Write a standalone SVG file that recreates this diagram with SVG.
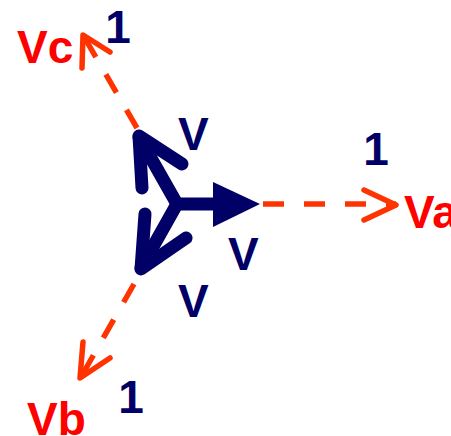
<svg xmlns="http://www.w3.org/2000/svg" width="451" height="436" viewBox="0 0 451 436">
  <style>
    .lbl { font-family: "Liberation Sans", Arial, sans-serif; font-weight: bold; font-size: 46px; }
    .red { fill: #FF0000; }
    .navy { fill: #000066; }
    .phasor { fill: none; stroke: #000066; stroke-width: 13; stroke-linecap: round; stroke-linejoin: round; }
    .dash { fill: none; stroke: #FF3300; stroke-width: 5.5; stroke-dasharray: 21 20; }
    .chev { fill: none; stroke: #FF3300; stroke-width: 5.5; stroke-linecap: round; stroke-linejoin: round; }
  </style>
  <rect width="451" height="436" fill="#FFFFFF"/>

  <g id="connectors">
    <line class="dash" x1="263" y1="204" x2="396" y2="204"/>
    <polyline class="chev" points="364,190 396,205 364,220"/>
    <line class="dash" x1="137" y1="128" x2="83" y2="35"/>
    <polyline class="chev" points="82,68 83,35 110,52"/>
    <line class="dash" x1="134" y1="284" x2="81" y2="377"/>
    <polyline class="chev" points="83,342 80,378 110,358"/>
  </g>

  <g id="star">
    <line class="phasor" x1="177" y1="204" x2="215" y2="204"/>
    <polygon points="213,182 260,204 213,227" fill="#000066"/>
    <line class="phasor" x1="177" y1="204" x2="139" y2="137"/>
    <polyline class="phasor" points="142,188 139,136 182,164"/>
    <line class="phasor" x1="177" y1="204" x2="141" y2="268"/>
    <polyline class="phasor" points="145,214 141,269 186,238"/>
  </g>

  <g id="label-v-upper"><text class="lbl navy" x="178" y="150">V</text></g>
  <g id="label-v-right"><text class="lbl navy" x="228" y="270">V</text></g>
  <g id="label-v-lower"><text class="lbl navy" x="178" y="317">V</text></g>

  <g id="node-va">
    <text class="lbl red" x="404" y="228">Va</text>
    <text class="lbl navy" x="376" y="165" text-anchor="middle">1</text>
  </g>
  <g id="node-vb">
    <text class="lbl red" x="27" y="435">Vb</text>
    <text class="lbl navy" x="131" y="413" text-anchor="middle">1</text>
  </g>
  <g id="node-vc">
    <text class="lbl red" x="17" y="63">Vc</text>
    <text class="lbl navy" x="118" y="43" text-anchor="middle">1</text>
  </g>
</svg>
